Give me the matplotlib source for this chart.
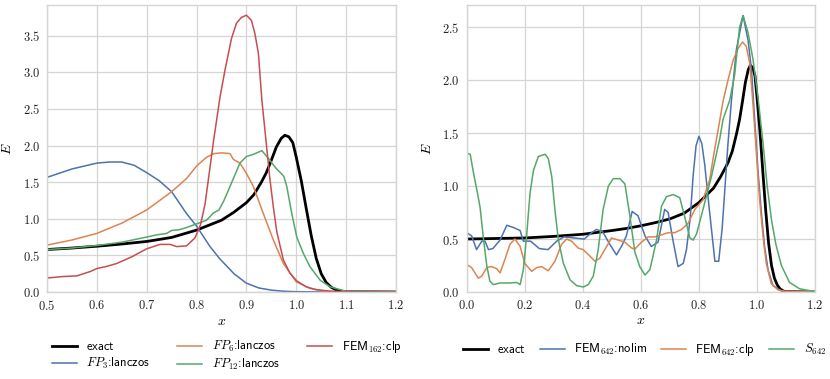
import numpy as np
import matplotlib
matplotlib.use("Agg")
import matplotlib.pyplot as plt

# exact solution (shared by both panels)
x_exact = [0.0, 0.1, 0.2, 0.3, 0.4, 0.5, 0.55, 0.6, 0.65, 0.7, 0.75, 0.8, 0.85, 0.875,
           0.9, 0.915, 0.93, 0.94, 0.95, 0.96, 0.97, 0.977, 0.985, 0.993, 1.0, 1.01,
           1.02, 1.03, 1.04, 1.05, 1.06, 1.07, 1.08, 1.09, 1.1, 1.2]
E_exact = [0.50, 0.505, 0.51, 0.525, 0.545, 0.58, 0.60, 0.625, 0.655, 0.69, 0.745, 0.845,
           0.98, 1.09, 1.22, 1.33, 1.50, 1.63, 1.80, 1.98, 2.10, 2.14, 2.12, 2.04, 1.84,
           1.52, 1.14, 0.77, 0.46, 0.25, 0.13, 0.065, 0.028, 0.01, 0.003, 0.0]

# left panel
x_fp3 = [0.5, 0.55, 0.6, 0.625, 0.65, 0.675, 0.7, 0.725, 0.75, 0.78, 0.8, 0.827,
         0.847, 0.875, 0.9, 0.925, 0.95, 0.975, 1.0, 1.05, 1.2]
E_fp3 = [1.565, 1.68, 1.76, 1.775, 1.775, 1.73, 1.63, 1.52, 1.37, 1.07, 0.90, 0.62,
         0.45, 0.25, 0.12, 0.055, 0.025, 0.01, 0.004, 0.0, 0.0]

x_fp6 = [0.5, 0.55, 0.6, 0.65, 0.7, 0.75, 0.78, 0.8, 0.82, 0.835, 0.85, 0.867, 0.874,
         0.887, 0.9, 0.914, 0.934, 0.954, 0.974, 1.0, 1.027, 1.06, 1.1, 1.2]
E_fp6 = [0.64, 0.71, 0.80, 0.94, 1.12, 1.37, 1.55, 1.72, 1.84, 1.89, 1.90, 1.89, 1.81,
         1.76, 1.62, 1.44, 1.07, 0.71, 0.39, 0.14, 0.05, 0.01, 0.0, 0.0]

x_fp12 = [0.5, 0.55, 0.6, 0.65, 0.7, 0.72, 0.74, 0.75, 0.765, 0.78, 0.8, 0.82, 0.834,
          0.845, 0.855, 0.867, 0.887, 0.9, 0.914, 0.931, 0.941, 0.947, 0.958, 0.968,
          0.975, 0.981, 0.991, 1.001, 1.014, 1.027, 1.048, 1.068, 1.1, 1.2]
E_fp12 = [0.58, 0.60, 0.635, 0.68, 0.75, 0.78, 0.80, 0.84, 0.85, 0.88, 0.93, 0.98, 1.08,
          1.12, 1.25, 1.44, 1.76, 1.85, 1.88, 1.93, 1.85, 1.80, 1.70, 1.63, 1.58, 1.44,
          1.07, 0.75, 0.53, 0.35, 0.16, 0.07, 0.01, 0.0]

x_fem162 = [0.5, 0.53, 0.56, 0.587, 0.6, 0.62, 0.64, 0.67, 0.7, 0.727, 0.747, 0.76,
            0.78, 0.797, 0.808, 0.817, 0.824, 0.834, 0.847, 0.857, 0.87, 0.88, 0.89,
            0.9, 0.91, 0.917, 0.924, 0.931, 0.941, 0.947, 0.954, 0.961, 0.974, 0.987,
            1.001, 1.02, 1.04, 1.07, 1.1, 1.2]
E_fem162 = [0.19, 0.21, 0.22, 0.28, 0.32, 0.35, 0.39, 0.48, 0.59, 0.65, 0.65, 0.62,
            0.63, 0.74, 0.92, 1.2, 1.55, 2.06, 2.66, 3.03, 3.46, 3.67, 3.75, 3.78, 3.71,
            3.53, 3.26, 2.62, 1.95, 1.55, 1.16, 0.82, 0.44, 0.26, 0.15, 0.07, 0.03,
            0.01, 0.002, 0.0]

# right panel
x_nolim = [0.0, 0.017, 0.034, 0.052, 0.063, 0.075, 0.09, 0.115, 0.138, 0.16, 0.184,
           0.195, 0.22, 0.25, 0.28, 0.31, 0.335, 0.37, 0.405, 0.43, 0.447, 0.468, 0.493,
           0.516, 0.535, 0.55, 0.57, 0.59, 0.614, 0.636, 0.659, 0.682, 0.694, 0.711,
           0.728, 0.746, 0.757, 0.77, 0.78, 0.79, 0.8, 0.81, 0.82, 0.835, 0.855, 0.868,
           0.88, 0.89, 0.9, 0.912, 0.929, 0.952, 0.969, 0.981, 0.992, 1.003, 1.015,
           1.026, 1.038, 1.055, 1.084, 1.1, 1.2]
E_nolim = [0.56, 0.53, 0.40, 0.48, 0.48, 0.40, 0.41, 0.49, 0.63, 0.61, 0.58, 0.48, 0.48,
           0.41, 0.40, 0.48, 0.52, 0.51, 0.50, 0.56, 0.59, 0.57, 0.45, 0.35, 0.44, 0.53,
           0.76, 0.72, 0.53, 0.43, 0.47, 0.78, 0.75, 0.48, 0.24, 0.27, 0.40, 0.70, 1.10,
           1.38, 1.47, 1.40, 1.20, 0.80, 0.29, 0.29, 0.60, 1.00, 1.40, 1.81, 2.29, 2.61,
           2.38, 2.10, 1.63, 1.16, 0.75, 0.43, 0.21, 0.06, 0.01, 0.003, 0.0]

x_clp = [0.0, 0.017, 0.04, 0.052, 0.069, 0.086, 0.103, 0.115, 0.132, 0.149, 0.166,
         0.184, 0.2, 0.224, 0.241, 0.258, 0.281, 0.304, 0.327, 0.344, 0.361, 0.384,
         0.401, 0.424, 0.442, 0.459, 0.482, 0.499, 0.522, 0.545, 0.568, 0.579, 0.602,
         0.625, 0.648, 0.671, 0.694, 0.717, 0.74, 0.763, 0.786, 0.814, 0.837, 0.85,
         0.866, 0.883, 0.9, 0.918, 0.935, 0.95, 0.963, 0.975, 0.986, 0.998, 1.009,
         1.021, 1.032, 1.049, 1.072, 1.1, 1.2]
E_clp = [0.26, 0.23, 0.13, 0.15, 0.23, 0.24, 0.22, 0.18, 0.31, 0.45, 0.50, 0.43, 0.27,
         0.195, 0.23, 0.24, 0.20, 0.29, 0.45, 0.50, 0.48, 0.415, 0.40, 0.34, 0.29, 0.32,
         0.43, 0.51, 0.49, 0.47, 0.415, 0.405, 0.47, 0.52, 0.52, 0.54, 0.56, 0.56, 0.59,
         0.65, 0.78, 0.87, 1.06, 1.28, 1.53, 1.80, 2.00, 2.19, 2.30, 2.36, 2.32, 2.16,
         1.78, 1.31, 0.87, 0.52, 0.27, 0.08, 0.02, 0.005, 0.0]

x_s642 = [0.0, 0.012, 0.025, 0.036, 0.046, 0.057, 0.069, 0.08, 0.092, 0.115, 0.149,
          0.172, 0.184, 0.195, 0.207, 0.218, 0.23, 0.247, 0.27, 0.281, 0.293, 0.304,
          0.316, 0.333, 0.356, 0.379, 0.402, 0.419, 0.436, 0.453, 0.47, 0.488, 0.505,
          0.528, 0.545, 0.562, 0.579, 0.596, 0.614, 0.631, 0.654, 0.671, 0.688, 0.711,
          0.734, 0.751, 0.769, 0.78, 0.792, 0.814, 0.843, 0.872, 0.883, 0.906, 0.923,
          0.94, 0.952, 0.969, 0.986, 1.003, 1.021, 1.035, 1.05, 1.065, 1.084, 1.112,
          1.147, 1.2]
E_s642 = [1.31, 1.30, 1.10, 0.95, 0.80, 0.52, 0.25, 0.10, 0.07, 0.085, 0.085, 0.09,
          0.07, 0.21, 0.55, 0.93, 1.15, 1.28, 1.30, 1.26, 1.09, 0.77, 0.49, 0.27, 0.115,
          0.06, 0.047, 0.07, 0.15, 0.40, 0.78, 1.00, 1.07, 1.07, 1.02, 0.72, 0.38, 0.24,
          0.16, 0.21, 0.49, 0.81, 0.90, 0.92, 0.89, 0.71, 0.51, 0.49, 0.55, 0.78, 1.09,
          1.45, 1.63, 1.81, 2.05, 2.50, 2.61, 2.45, 2.20, 1.85, 1.40, 1.00, 0.68, 0.45,
          0.25, 0.09, 0.03, 0.003]

blue, orange, green, red = "#4C72B0", "#DD8452", "#55A868", "#C44E52"

plt.rcParams["mathtext.fontset"] = "cm"
plt.rcParams["font.family"] = "cmr10"
plt.rcParams["axes.formatter.use_mathtext"] = True

fig = plt.figure(figsize=(8.3, 3.79), dpi=100)
ax1 = fig.add_axes([0.0566, 0.2296, 0.4205, 0.7573])
ax2 = fig.add_axes([0.5623, 0.2296, 0.4197, 0.7573])

lw = 1.1
ax1.plot(x_exact, E_exact, color="black", lw=2.0, label=r"$\mathsf{exact}$")
ax1.plot(x_fp3, E_fp3, color=blue, lw=lw, label=r"$FP_3$:lanczos")
ax1.plot(x_fp6, E_fp6, color=orange, lw=lw, label=r"$FP_6$:lanczos")
ax1.plot(x_fp12, E_fp12, color=green, lw=lw, label=r"$FP_{12}$:lanczos")
ax1.plot(x_fem162, E_fem162, color=red, lw=lw, label=r"FEM$_{162}$:clp")
ax1.set_xlim(0.5, 1.2)
ax1.set_ylim(0, 3.92)
ax1.set_xticks(np.arange(0.5, 1.21, 0.1))
ax1.set_yticks(np.arange(0, 3.6, 0.5))

ax2.plot(x_exact, E_exact, color="black", lw=2.0, label=r"$\mathsf{exact}$")
ax2.plot(x_nolim, E_nolim, color=blue, lw=lw, label=r"FEM$_{642}$:nolim")
ax2.plot(x_clp, E_clp, color=orange, lw=lw, label=r"FEM$_{642}$:clp")
ax2.plot(x_s642, E_s642, color=green, lw=lw, label=r"$S_{642}$")
ax2.set_xlim(0, 1.2)
ax2.set_ylim(0, 2.71)
ax2.set_xticks(np.arange(0, 1.21, 0.2))
ax2.set_yticks(np.arange(0, 2.6, 0.5))

for ax in (ax1, ax2):
    ax.grid(True, color="#d5d5d5", lw=0.9)
    ax.set_axisbelow(True)
    for s in ax.spines.values():
        s.set_color("#d5d5d5")
        s.set_linewidth(1.0)
    ax.tick_params(length=0, labelsize=9, pad=5, colors="#222222")
    ax.xaxis.set_major_formatter(matplotlib.ticker.FormatStrFormatter("$%.1f$"))
    ax.yaxis.set_major_formatter(matplotlib.ticker.FormatStrFormatter("$%.1f$"))
    ax.set_xlabel("$x$", fontsize=10, labelpad=2)
    ax.set_ylabel("$E$", fontsize=10, labelpad=6)

leg_font = {"family": "cmss10", "size": 9}
ax1.legend(loc="upper center", bbox_to_anchor=(0.515, -0.125), ncol=3, frameon=False,
           prop=leg_font, handlelength=2.0, columnspacing=2.2, handletextpad=0.75,
           labelspacing=0.25)
ax2.legend(loc="upper center", bbox_to_anchor=(0.51, -0.135), ncol=4, frameon=False,
           prop=leg_font, handlelength=2.0, columnspacing=1.1, handletextpad=0.75)

fig.savefig("out.png", dpi=100)
